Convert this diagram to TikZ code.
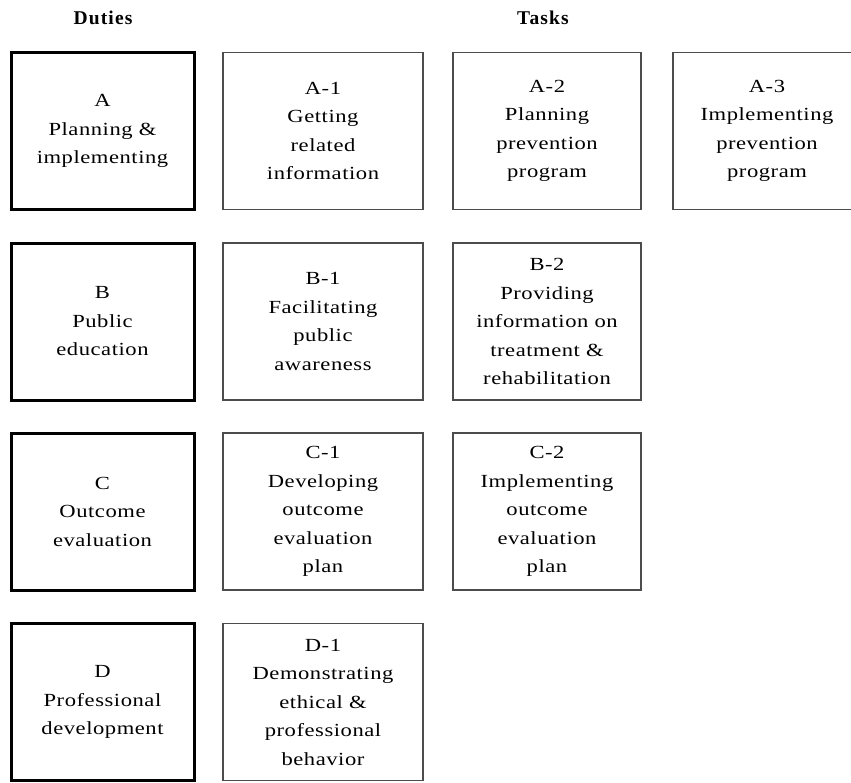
\documentclass[tikz,border=0pt]{standalone}
\usepackage{fontspec}
\setmainfont{Liberation Serif}[FakeStretch=1.22, LetterSpace=3.0]
\newfontfamily\headfont{Liberation Serif}[LetterSpace=6.0]
\usepackage{tikz}
\tikzstyle{duty}=[draw=black,line width=3pt,minimum width=183pt,minimum height=157pt,inner sep=0pt,align=center,font=\fontsize{18.5}{28.5}\selectfont]
\tikzstyle{task}=[draw=black!70,line width=1.3pt,minimum width=196pt,minimum height=157pt,inner sep=0pt,align=center,font=\fontsize{18.5}{28.5}\selectfont]
\tikzstyle{header}=[font=\headfont\fontsize{19.5}{22}\selectfont\bfseries]

\begin{document}
\begin{tikzpicture}[x=1pt, y=-1pt]
          \clip (0, 0) rectangle (851, 782);
          \fill[white] (0, 0) rectangle (851, 782);
          \node[header] (duties) at (103, 18) {Duties};
          \node[header] (tasks) at (543, 18) {Tasks};
          % duties
          \node[duty] (a) at (102.5, 131) {A\\Planning \&\\implementing};
          \node[duty] (b) at (102.5, 321.5) {B\\Public\\education};
          \node[duty] (c) at (102.5, 511.5) {C\\Outcome\\evaluation};
          \node[duty] (d) at (102.5, 702) {D\\Professional\\development};
          % tasks
          \node[task, minimum width=200pt] (a1) at (323, 131) {A-1\\Getting\\related\\information};
          \node[task, minimum width=188pt] (a2) at (547, 131) {A-2\\Planning\\prevention\\program};
          \node[task, minimum width=188pt] (a3) at (767, 131) {A-3\\Implementing\\prevention\\program};
          \node[task, minimum width=200pt] (b1) at (323, 321.5) {B-1\\Facilitating\\public\\awareness};
          \node[task, minimum width=188pt] (b2) at (547, 321.5) {B-2\\Providing\\information on\\treatment \&\\rehabilitation};
          \node[task, minimum width=200pt] (c1) at (323, 511.5) {C-1\\Developing\\outcome\\evaluation\\plan};
          \node[task, minimum width=188pt] (c2) at (547, 511.5) {C-2\\Implementing\\outcome\\evaluation\\plan};
          \node[task, minimum width=200pt] (d1) at (323, 702) {D-1\\Demonstrating\\ethical \&\\professional\\behavior};
        \end{tikzpicture}
\end{document}
